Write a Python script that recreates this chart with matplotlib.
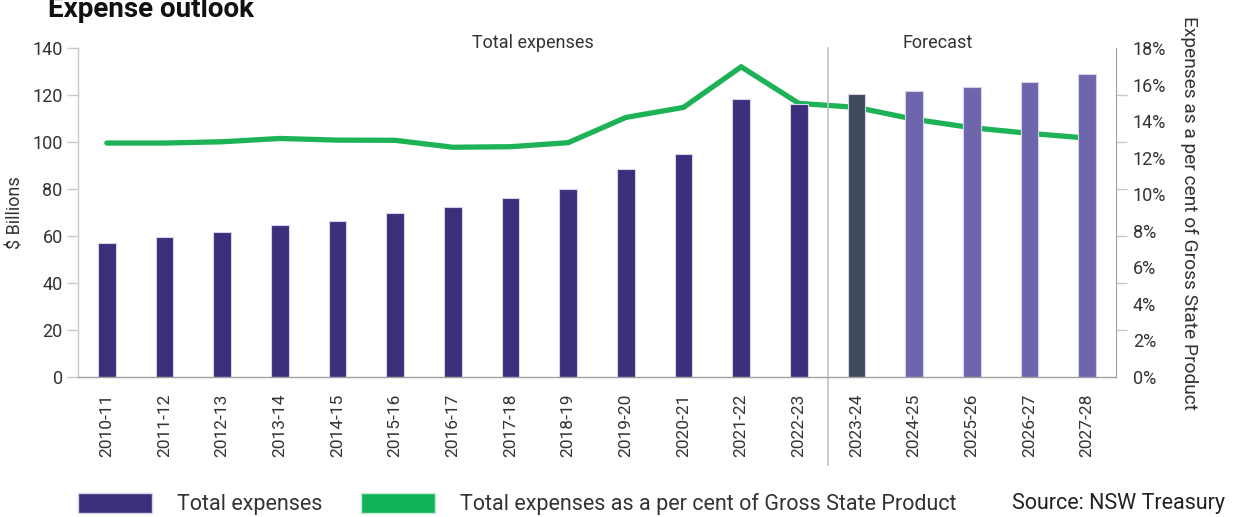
import matplotlib
matplotlib.use("Agg")
import matplotlib.pyplot as plt
from matplotlib.patches import Patch
from matplotlib.transforms import blended_transform_factory
import numpy as np

plt.rcParams['font.family'] = ['Roboto', 'DejaVu Sans']

years = ["2010-11", "2011-12", "2012-13", "2013-14", "2014-15", "2015-16", "2016-17",
         "2017-18", "2018-19", "2019-20", "2020-21", "2021-22", "2022-23", "2023-24",
         "2024-25", "2025-26", "2026-27", "2027-28"]
expenses_bn = [56.9, 59.4, 61.6, 64.5, 66.4, 69.6, 72.3, 76.0, 80.1, 88.6, 94.8,
               118.4, 116.2, 120.3, 121.8, 123.4, 125.7, 128.8]
pct_gsp = [12.80, 12.80, 12.87, 13.05, 12.96, 12.95, 12.57, 12.60, 12.82, 14.20,
           14.75, 16.97, 14.97, 14.75, 14.10, 13.64, 13.33, 13.07]
# bar colour groups: actual, budget year, forward estimates
col_actual = "#3D2E7C"
col_budget = "#3E4B5C"
col_forward = "#6E66AC"
green = "#1DB256"
n_actual = 13
bar_colors = [col_actual] * n_actual + [col_budget] + [col_forward] * (len(years) - n_actual - 1)
left_ticks = [0, 20, 40, 60, 80, 100, 120, 140]
right_ticks = [0, 2, 4, 6, 8, 10, 12, 14, 16, 18]

text_col = "#333333"
axis_col = "#A0A0A0"
lw_txt = 'normal'

fig = plt.figure(figsize=(12.37, 5.17), dpi=100)
ax = fig.add_axes([78/1237, 1-377/517, (1116-78)/1237, (377-48)/517])
x = np.arange(len(years))
ax.bar(x, expenses_bn, width=0.31, color=bar_colors, edgecolor="#D6D2EA", linewidth=0.8, zorder=2)
ax.set_xlim(-0.5, len(years) - 0.5)
ax.set_ylim(0, 140)
ax.set_yticks(left_ticks)
ax.set_yticklabels([str(t) for t in left_ticks], fontweight=lw_txt)
ax.set_xticks(x)
ax.set_xticklabels(years, rotation=90, fontweight=lw_txt)
ax.tick_params(axis='x', length=0, pad=12, labelsize=12.5, labelcolor=text_col)
ax.tick_params(axis='y', length=8, width=1, color="#C8C8C8", pad=3, labelsize=13, labelcolor=text_col)
for s in ['top', 'right']:
    ax.spines[s].set_visible(False)
for s in ['left', 'bottom']:
    ax.spines[s].set_color(axis_col)
    ax.spines[s].set_linewidth(1)
ax.spines['left'].set_color("#C8C8C8")
ax.set_ylabel("$ Billions", fontsize=13, color=text_col, fontweight=lw_txt)

ax2 = ax.twinx()
ax2.plot(x, pct_gsp, color=green, linewidth=3.8, solid_capstyle='round', solid_joinstyle='miter', zorder=3)
ax2.set_ylim(0, 18)
ax2.set_yticks(right_ticks)
ax2.set_yticklabels([f"{t}%" for t in right_ticks], fontweight=lw_txt)
ax2.set_yticks([18 * k / 7 for k in range(8)], minor=True)
ax2.tick_params(axis='y', which='major', length=0, pad=12, labelsize=13, labelcolor=text_col)
ax2.tick_params(axis='y', which='minor', length=8, width=1, color="#C8C8C8")
for s in ['top', 'left', 'bottom']:
    ax2.spines[s].set_visible(False)
ax2.spines['right'].set_color(axis_col)
ax2.set_ylabel("Expenses as a per cent of Gross State Product", fontsize=13.8,
               color=text_col, rotation=-90, fontweight=lw_txt)
ax2.yaxis.set_label_coords(1.079, 0.5)
ax.set_zorder(ax2.get_zorder() + 1)
ax.patch.set_visible(False)
ax.yaxis.set_label_coords(-0.052, 0.5)

# forecast divider
tr = blended_transform_factory(ax.transData, ax.transAxes)
ax.plot([n_actual - 0.5, n_actual - 0.5], [-0.268, 1.0], transform=tr, color="#C4C4C4",
        linewidth=1.2, clip_on=False, zorder=1)
ax.text(7.39, 1.015, "Total expenses", transform=tr, ha='center', va='center',
        fontsize=13, color=text_col, fontweight=lw_txt)
ax.text(14.41, 1.015, "Forecast", transform=tr, ha='center', va='center', fontsize=13,
        color=text_col, fontweight=lw_txt)

fig.text(48/1237, 1-17/517, "Expense outlook", fontsize=20, fontweight='bold', color="#111111",
         va='baseline', ha='left')

handles = [Patch(facecolor=col_actual, edgecolor="#D6D2EA", label="Total expenses"),
           Patch(facecolor="#12B259", edgecolor="#C8EBD4", label="Total expenses as a per cent of Gross State Product")]
leg = fig.legend(handles=handles, loc='center left', bbox_to_anchor=(78/1237, 1-504/517), ncol=2,
                 frameon=False, fontsize=15.5, handlelength=3.45, handleheight=1.07,
                 handletextpad=1.15, columnspacing=1.8, borderaxespad=0, borderpad=0)
for t in leg.get_texts():
    t.set_color(text_col)
    t.set_fontweight(lw_txt)
fig.text(1225/1237, 1-504/517, "Source: NSW Treasury", fontsize=15.5, color="#222222",
         ha='right', va='center', fontweight=lw_txt)

fig.savefig("out.png", dpi=100)
